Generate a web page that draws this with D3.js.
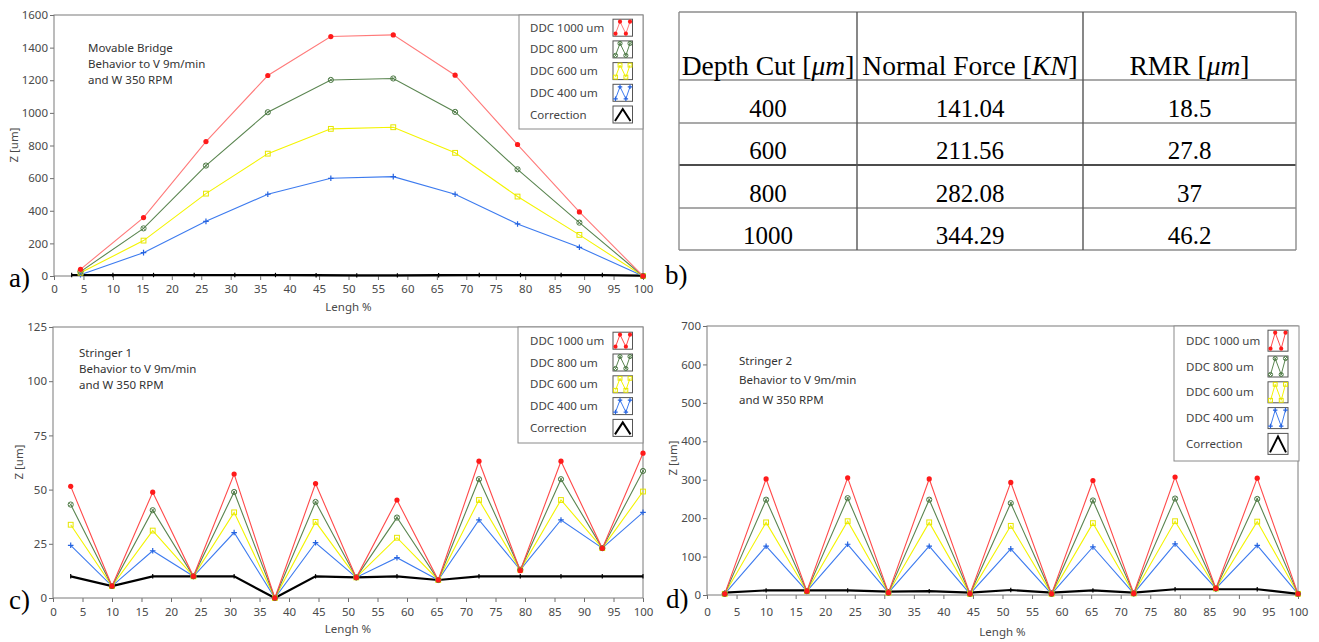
<!DOCTYPE html>
<html><head><meta charset="utf-8">
<script src="https://cdn.jsdelivr.net/npm/d3@7"></script>
<style>
html,body{margin:0;padding:0;background:#fff;}
svg{display:block;}
.ui{font-family:"Noto Sans","Open Sans",sans-serif;}
.serif{font-family:"Liberation Serif","Times New Roman",serif;}
</style></head><body>
<svg id="fig" width="1319" height="642"></svg>
<script>
// ---------- DATA ----------
const seriesNames = ["DDC 1000 um","DDC 800 um","DDC 600 um","DDC 400 um","Correction"];
const xTicks = d3.range(0, 101, 5);

// Panel a) Movable Bridge
const xA = [4.5, 15.2, 25.8, 36.3, 47, 57.6, 68.1, 78.7, 89.2, 100];
const a1000 = [41, 358, 824, 1229, 1468, 1478, 1231, 806, 393, 0];
const a800  = [27, 292, 677, 1004, 1202, 1211, 1006, 654, 327, 0];
const a600  = [20, 217, 505, 750, 902, 912, 755, 487, 252, 0];
const a400  = [8, 143, 335, 501, 599, 609, 501, 319, 176, 0];
const xCorr = [3, 10, 16.9, 23.8, 30.7, 37.6, 44.5, 51.4, 58.3, 65.3, 72.2, 79.2, 86.1, 93.1, 100];
const aCorr = [6, 6, 6, 6, 6, 6, 5, 4, 4, 5, 6, 6, 6, 6, 2];
const aTicksY = d3.range(0, 1601, 200);

// Panel c) Stringer 1
const c1000 = [51.5, 5.5, 48.8, 10, 57.2, 0, 52.8, 9.4, 45.2, 8.3, 63.1, 12.6, 63.1, 22.9, 66.8];
const c800  = [43.1, 5.5, 40.5, 10, 48.9, 0, 44.3, 9.5, 37.1, 8.3, 54.8, 13, 54.8, 23, 58.6];
const c600  = [33.8, 5.5, 31.1, 10, 39.5, 0, 35.1, 9.5, 27.8, 8.3, 45.2, 13, 45.2, 23, 49.1];
const c400  = [24.3, 5.5, 21.8, 10, 30.2, 0, 25.5, 9.5, 18.6, 8.3, 36, 13, 36, 23, 39.5];
const cCorr = [10, 5.5, 10, 10, 10, 0, 10, 9.5, 10, 8.3, 10, 10, 10, 10, 10];
const cTicksY = d3.range(0, 126, 25);

// Panel d) Stringer 2
const d1000 = [3, 302, 10, 305, 6, 302, 3, 293, 3, 298, 4, 307, 17, 304, 3];
const d800  = [3, 248, 10, 252, 6, 248, 3, 239, 3, 246, 4, 251, 17, 250, 3];
const d600  = [3, 189, 10, 192, 6, 189, 3, 180, 3, 187, 4, 192, 17, 191, 3];
const d400  = [3, 127, 10, 132, 6, 127, 3, 120, 3, 125, 4, 133, 17, 129, 3];
const dCorr = [6, 12, 12, 12, 9, 10, 6, 13, 6, 12, 6, 15, 15, 15, 3];
const dTicksY = d3.range(0, 701, 100);

// Panel b) table
const depthCut = ["400", "600", "800", "1000"];
const normalForce = ["141.04", "211.56", "282.08", "344.29"];
const rmr = ["18.5", "27.8", "37", "46.2"];

// ---------- DRAWING ----------
const svg = d3.select("#fig");
const styles = [
  {type:"dot",    line:"#ff7a7a", mark:"#ff1a1a"},
  {type:"ocross", line:"#5a8550", mark:"#4e7a46"},
  {type:"square", line:"#f4f400", mark:"#e6e600"},
  {type:"plus",   line:"#3d7bef", mark:"#2563e0"},
  {type:"tick",   line:"#000000", mark:"#000000"}
];

function drawMarker(g, type, color, cx, cy, s) {
  s = s || 1;
  if (type === "dot") {
    g.append("circle").attr("cx", cx).attr("cy", cy).attr("r", 2.6*s).attr("fill", color);
  } else if (type === "ocross") {
    const r = 2.6*s;
    g.append("circle").attr("cx", cx).attr("cy", cy).attr("r", r).attr("fill", "none").attr("stroke", color).attr("stroke-width", 1);
    g.append("path").attr("d", `M${cx-r*0.7},${cy-r*0.7}L${cx+r*0.7},${cy+r*0.7}M${cx-r*0.7},${cy+r*0.7}L${cx+r*0.7},${cy-r*0.7}`)
      .attr("stroke", color).attr("stroke-width", 0.8);
  } else if (type === "square") {
    const r = 2.4*s;
    g.append("rect").attr("x", cx-r).attr("y", cy-r).attr("width", 2*r).attr("height", 2*r)
      .attr("fill", "none").attr("stroke", color).attr("stroke-width", 1);
  } else if (type === "plus") {
    const r = 2.8*s;
    g.append("path").attr("d", `M${cx-r},${cy}H${cx+r}M${cx},${cy-r}V${cy+r}`).attr("stroke", color).attr("stroke-width", 1.2);
  } else {
    const r = 2.2*s;
    g.append("path").attr("d", `M${cx},${cy-r}V${cy+r}`).attr("stroke", color).attr("stroke-width", 1.2);
  }
}

function drawPanel(p) {
  const g = svg.append("g").attr("class", "ui");
  const x = d3.scaleLinear([0, 100], [p.l, p.r]);
  const y = d3.scaleLinear([0, p.ymax], [p.b, p.t]);

  // axes
  const ax = g.append("g").attr("transform", `translate(0,${p.b})`)
    .call(d3.axisBottom(x).tickValues(xTicks).tickSize(4).tickSizeOuter(0).tickPadding(p.xpad).tickFormat(d3.format("d")));
  const ay = g.append("g").attr("transform", `translate(${p.l},0)`)
    .call(d3.axisLeft(y).tickValues(p.yticks).tickSize(4).tickSizeOuter(0).tickPadding(2).tickFormat(d3.format("d")));
  [ax, ay].forEach(a => {
    a.select(".domain").remove();
    a.selectAll("line").attr("stroke", "#6e6e6e");
    a.selectAll("text").attr("fill", "#4a4a4a").style("font-size", "11.5px").style("font-family", '"Noto Sans",sans-serif');
  });

  // frame
  g.append("rect").attr("x", p.l).attr("y", p.t).attr("width", p.r - p.l).attr("height", p.b - p.t)
    .attr("fill", "none").attr("stroke", "#7a7a7a").attr("stroke-width", 1);

  // axis titles
  g.append("text").attr("x", (p.l + p.r)/2).attr("y", p.xlabY).attr("text-anchor", "middle")
    .attr("fill", "#4a4a4a").style("font-size", "11.5px").text("Lengh %");
  g.append("text").attr("transform", `translate(${p.ylabX},${p.ylabY}) rotate(-90)`).attr("text-anchor", "middle")
    .attr("dominant-baseline", "central").attr("fill", "#4a4a4a").style("font-size", "11.5px").text("Z [um]");

  // series
  const clip = "clip" + p.id;
  svg.append("clipPath").attr("id", clip).append("rect")
    .attr("x", p.l - 4).attr("y", p.t).attr("width", p.r - p.l + 8).attr("height", p.b - p.t + 4);
  const sg = g.append("g").attr("clip-path", `url(#${clip})`);
  const line = d3.line().x(d => x(d[0])).y(d => y(d[1]));

  // correction first
  const corrPts = p.corrX.map((v, i) => [v, p.corr[i]]);
  sg.append("path").attr("d", line(corrPts)).attr("fill", "none").attr("stroke", "#000").attr("stroke-width", 2.2);
  corrPts.forEach(d => drawMarker(sg, "tick", "#000", x(d[0]), y(d[1])));

  for (let k = 3; k >= 0; k--) {
    const st = styles[k];
    const pts = p.xs.map((v, i) => [v, p.ys[k][i]]);
    const lc = (k === 0 && p.red) ? p.red : st.line;
    sg.append("path").attr("d", line(pts)).attr("fill", "none").attr("stroke", lc).attr("stroke-width", 1.1);
    pts.forEach(d => drawMarker(sg, st.type, st.mark, x(d[0]), y(d[1])));
  }

  // annotation
  p.note.forEach((t, i) => {
    g.append("text").attr("x", p.noteX).attr("y", p.noteY[i]).attr("fill", "#333")
      .style("font-size", "11.5px").text(t);
  });

  // legend
  const L = p.leg;
  g.append("rect").attr("x", L.x0).attr("y", L.y0).attr("width", L.x1 - L.x0).attr("height", L.y1 - L.y0)
    .attr("fill", "#fff").attr("stroke", "#8a8a8a").attr("stroke-width", 1);
  seriesNames.forEach((name, i) => {
    const cy = L.rows[i];
    g.append("text").attr("x", L.tx).attr("y", cy + 4).attr("fill", "#444").style("font-size", "11.5px").text(name);
    const bx = L.ix, bw = L.iw, bt = cy - L.ih/2, bb = cy + L.ih/2;
    g.append("rect").attr("x", bx).attr("y", bt).attr("width", bw).attr("height", L.ih)
      .attr("fill", "#fff").attr("stroke", "#555").attr("stroke-width", 1);
    const st = styles[i];
    let pts;
    if (i < 4) {
      pts = [[bx + 2.5, bb - 2.5], [bx + bw*0.36, bt + 2.5], [bx + bw*0.66, bb - 2.5], [bx + bw - 2.5, bt + 2.5]];
      g.append("path").attr("d", d3.line()(pts)).attr("fill", "none").attr("stroke", (i === 0 && p.red) ? p.red : st.line).attr("stroke-width", 1);
      pts.forEach(q => drawMarker(g, st.type, st.mark, q[0], q[1], 0.8));
    } else {
      pts = [[bx + 2, bb - 2], [bx + bw/2, bt + 3], [bx + bw - 2, bb - 2]];
      g.append("path").attr("d", d3.line()(pts)).attr("fill", "none").attr("stroke", "#000").attr("stroke-width", 2);
    }
  });

  // panel letter
  svg.append("text").attr("class", "serif").attr("x", p.letter[0]).attr("y", p.letter[1])
    .style("font-size", "27px").attr("fill", "#000").text(p.letter[2]);
}

drawPanel({
  id: "a", l: 54, r: 643, t: 15, b: 276, ymax: 1600, yticks: aTicksY, xpad: 5,
  xs: xA, ys: [a1000, a800, a600, a400], corrX: xCorr, corr: aCorr,
  xlabY: 311, ylabX: 13, ylabY: 145,
  note: ["Movable Bridge", "Behavior to V 9m/min", "and W 350 RPM"], noteX: 88, noteY: [52, 68, 84],
  leg: {x0: 519, x1: 643, y0: 15, y1: 129, rows: [27.7, 49.4, 71.1, 92.8, 114.5], tx: 530, ix: 613, iw: 19.5, ih: 17},
  letter: [9, 287, "a)"]
});
drawPanel({
  id: "c", l: 53, r: 643, t: 327, b: 598, ymax: 125, yticks: cTicksY, xpad: 6, red: "#ff4a4a",
  xs: xCorr, ys: [c1000, c800, c600, c400], corrX: xCorr, corr: cCorr,
  xlabY: 633, ylabX: 18, ylabY: 462,
  note: ["Stringer 1", "Behavior to V 9m/min", "and W 350 RPM"], noteX: 79, noteY: [356.5, 372.5, 388.5],
  leg: {x0: 518, x1: 643, y0: 327, y1: 443, rows: [340.7, 362.5, 384.3, 406.1, 427.9], tx: 530, ix: 613, iw: 19.5, ih: 17},
  letter: [9, 609, "c)"]
});
drawPanel({
  id: "d", l: 707, r: 1298, t: 326, b: 595, ymax: 700, yticks: dTicksY, xpad: 9, red: "#ff4a4a",
  xs: xCorr, ys: [d1000, d800, d600, d400], corrX: xCorr, corr: dCorr,
  xlabY: 636, ylabX: 672, ylabY: 458,
  note: ["Stringer 2", "Behavior to V 9m/min", "and W 350 RPM"], noteX: 739, noteY: [365, 384, 403.5],
  leg: {x0: 1174, x1: 1299, y0: 326, y1: 461, rows: [340.7, 366.5, 392.3, 418.1, 443.9], tx: 1186, ix: 1268, iw: 20, ih: 21},
  letter: [666, 608, "d)"]
});

// ---------- TABLE (panel b) ----------
const tb = svg.append("g").attr("class", "serif");
const colX = [679, 857, 1083, 1296];
const rowY = [12, 80, 123, 165, 208, 250];
const rows = depthCut.map((d, i) => [d, normalForce[i], rmr[i]]);
const fs = "25px";

// lines
rowY.forEach((yy, i) => {
  tb.append("line").attr("x1", colX[0]).attr("x2", colX[3]).attr("y1", yy).attr("y2", yy)
    .attr("stroke", i === 3 ? "#111" : "#8c8c8c").attr("stroke-width", 1.4);
});
colX.forEach((xx, i) => {
  tb.append("line").attr("x1", xx).attr("x2", xx).attr("y1", rowY[0]).attr("y2", rowY[5])
    .attr("stroke", (i === 1 || i === 2) ? "#555" : "#8c8c8c").attr("stroke-width", 1.4);
});

// header
const headers = [["Depth Cut [", "μm", "]"], ["Normal Force [", "KN", "]"], ["RMR [", "μm", "]"]];
headers.forEach((h, i) => {
  const t = tb.append("text").attr("x", (colX[i] + colX[i+1])/2).attr("y", 75).attr("text-anchor", "middle")
    .style("font-size", "27.5px").attr("fill", "#000");
  t.append("tspan").text(h[0]);
  t.append("tspan").style("font-style", "italic").text(h[1]);
  t.append("tspan").text(h[2]);
});
// body
const rowBase = [116.5, 159.2, 201.7, 244.2];
rows.forEach((r, j) => {
  r.forEach((v, i) => {
    tb.append("text").attr("x", (colX[i] + colX[i+1])/2).attr("y", rowBase[j]).attr("text-anchor", "middle")
      .style("font-size", fs).attr("fill", "#000").text(v);
  });
});
tb.append("text").attr("x", 665).attr("y", 284).style("font-size", "27px").attr("fill", "#000").text("b)");
</script>
</body></html>
